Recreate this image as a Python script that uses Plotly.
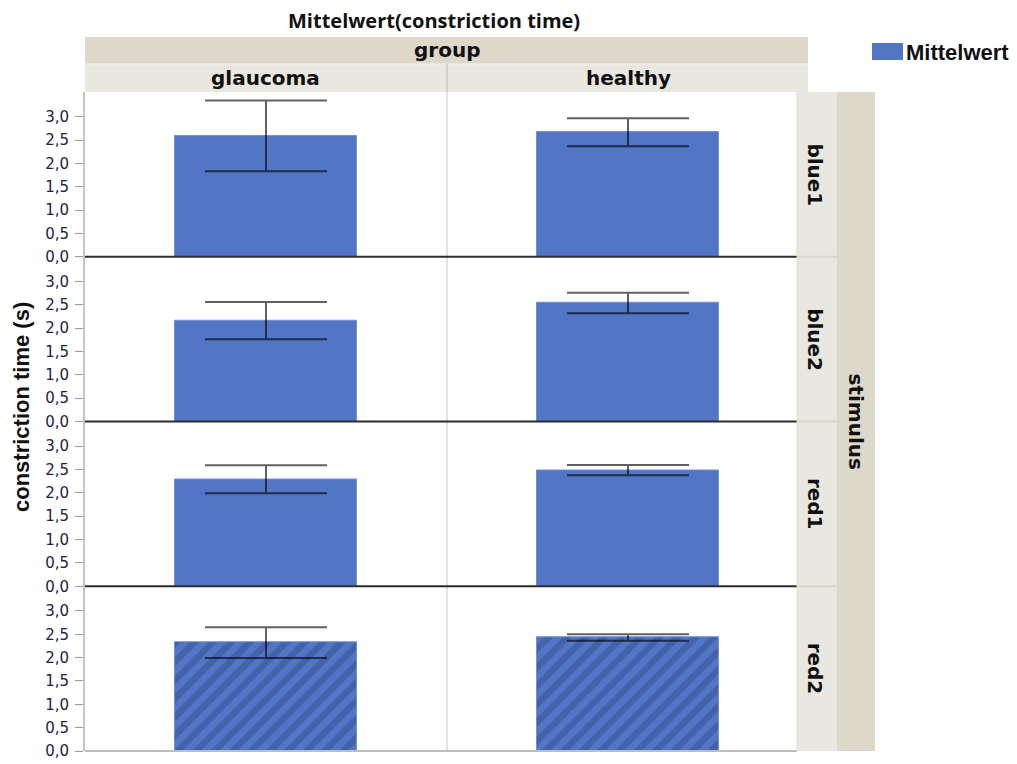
import plotly.graph_objects as go
from plotly.subplots import make_subplots

# Mean constriction time (s) with error half-widths, per stimulus and group
stimuli = ["blue1", "blue2", "red1", "red2"]
groups = ["glaucoma", "healthy"]
mean_glaucoma = [2.59, 2.16, 2.29, 2.32]
mean_healthy = [2.67, 2.54, 2.49, 2.43]
err_glaucoma = [0.76, 0.40, 0.30, 0.33]
err_healthy = [0.30, 0.22, 0.11, 0.07]
y_ticks = [0.0, 0.5, 1.0, 1.5, 2.0, 2.5, 3.0]

W, H = 1017, 764
L, R, T, B = 85, 809, 92, 751  # plot area in pixels

BAR = "#5275c6"
HATCH = "#34508e"
STRIP_DARK = "#dcd9cb"
STRIP_LIGHT = "#e9e8e0"
BOLD = "DejaVu Sans"


def fx(px):
    return (px - L) / (R - L)


def fy(py):
    return (B - py) / (B - T)


fig = make_subplots(rows=len(stimuli), cols=1, shared_xaxes=True,
                    vertical_spacing=0)

for i, stim in enumerate(stimuli):
    marker = dict(color=BAR, line=dict(color="#7190d6", width=1))
    if stim == "red2":
        marker["pattern"] = dict(shape="/", fgcolor=HATCH, bgcolor=BAR,
                                 size=13, solidity=0.5)
    fig.add_trace(
        go.Bar(
            x=groups,
            y=[mean_glaucoma[i], mean_healthy[i]],
            width=0.505,
            marker=marker,
            error_y=dict(type="data",
                         array=[err_glaucoma[i], err_healthy[i]],
                         color="rgba(0,0,0,0.62)", thickness=2, width=61),
            showlegend=False,
        ),
        row=i + 1, col=1,
    )
    fig.update_yaxes(
        row=i + 1, col=1,
        range=[0, 3.53], tickvals=y_ticks, tickformat=".1f",
        ticks="outside", ticklen=8, tickcolor="#9a9a9a", tickwidth=1,
        ticklabelstandoff=3, automargin=False,
        tickfont=dict(family="DejaVu Sans", size=15, color="#222244"),
        showgrid=False, zeroline=False,
        showline=True, linecolor="#c4c4c4", linewidth=2,
    )
    fig.update_xaxes(
        row=i + 1, col=1,
        type="category", categoryorder="array", categoryarray=groups,
        range=[-0.5, 1.5], showticklabels=False, ticks="", automargin=False,
        showgrid=False, zeroline=False, showline=False,
    )

shapes = []
row_h = (B - T) / len(stimuli)
row_bottoms = [T + row_h * (k + 1) for k in range(len(stimuli))]

# column divider between the two groups
shapes.append(dict(type="line", xref="paper", yref="paper", layer="below",
                   x0=fx(447), x1=fx(447), y0=0, y1=1,
                   line=dict(color="#d9d9d9", width=1.5)))

# baseline of each panel
for k, yb in enumerate(row_bottoms):
    col = "#bdbdbd" if k == len(stimuli) - 1 else "#2b2b2b"
    shapes.append(dict(type="line", xref="paper", yref="paper", layer="above",
                       x0=0, x1=fx(797), y0=fy(yb), y1=fy(yb),
                       line=dict(color=col, width=2)))

# column header bands
shapes.append(dict(type="rect", xref="paper", yref="paper", layer="above",
                   x0=fx(85), x1=fx(808), y0=fy(64), y1=fy(37),
                   fillcolor=STRIP_DARK, line=dict(width=0)))
shapes.append(dict(type="rect", xref="paper", yref="paper", layer="above",
                   x0=fx(85), x1=fx(808), y0=fy(92), y1=fy(64),
                   fillcolor=STRIP_LIGHT, line=dict(width=0)))
shapes.append(dict(type="line", xref="paper", yref="paper", layer="above",
                   x0=fx(85), x1=fx(808), y0=fy(64), y1=fy(64),
                   line=dict(color="#f2f1ec", width=1)))
shapes.append(dict(type="line", xref="paper", yref="paper", layer="above",
                   x0=fx(447), x1=fx(447), y0=fy(92), y1=fy(64),
                   line=dict(color="#d3d1c6", width=2)))

# row strips on the right
shapes.append(dict(type="rect", xref="paper", yref="paper", layer="above",
                   x0=fx(797), x1=fx(837), y0=fy(B), y1=fy(T),
                   fillcolor=STRIP_LIGHT, line=dict(width=0)))
shapes.append(dict(type="rect", xref="paper", yref="paper", layer="above",
                   x0=fx(837), x1=fx(875), y0=fy(B), y1=fy(T),
                   fillcolor=STRIP_DARK, line=dict(width=0)))
for yb in row_bottoms[:-1]:
    shapes.append(dict(type="line", xref="paper", yref="paper", layer="above",
                       x0=fx(797), x1=fx(837), y0=fy(yb), y1=fy(yb),
                       line=dict(color="#d8d6cc", width=2)))
shapes.append(dict(type="line", xref="paper", yref="paper", layer="above",
                   x0=fx(797), x1=fx(797), y0=0, y1=1,
                   line=dict(color="#dddcd4", width=1)))

# legend swatch
shapes.append(dict(type="rect", xref="paper", yref="paper", layer="above",
                   x0=fx(872), x1=fx(903), y0=fy(60), y1=fy(43),
                   fillcolor=BAR, line=dict(width=0)))

annotations = [
    dict(text="<b>Mittelwert(constriction time)</b>", x=fx(434), y=fy(21),
         font=dict(family="Open Sans", size=20, color="#111")),
    dict(text="<b>group</b>", x=fx(446.5), y=fy(50),
         font=dict(family=BOLD, size=20, color="#111")),
    dict(text="<b>glaucoma</b>", x=fx(265), y=fy(78),
         font=dict(family=BOLD, size=20, color="#111")),
    dict(text="<b>healthy</b>", x=fx(628), y=fy(78),
         font=dict(family=BOLD, size=20, color="#111")),
    dict(text="<b>stimulus</b>", x=fx(856), y=fy((T + B) / 2), textangle=90,
         font=dict(family=BOLD, size=20, color="#111")),
    dict(text="<b>constriction time (s)</b>", x=fx(21), y=fy(407),
         textangle=-90,
         font=dict(family="Liberation Sans", size=22, color="#111")),
    dict(text="<b>Mittelwert</b>", x=fx(904), y=fy(52), xanchor="left",
         font=dict(family="Liberation Sans", size=22, color="#111")),
]
for k, stim in enumerate(stimuli):
    annotations.append(dict(text=f"<b>{stim}</b>", x=fx(815),
                            y=fy(row_bottoms[k] - row_h / 2), textangle=90,
                            font=dict(family=BOLD, size=20, color="#111")))
for a in annotations:
    a.update(xref="paper", yref="paper", showarrow=False)
    a.setdefault("xanchor", "center")
    a.setdefault("yanchor", "middle")

fig.update_layout(
    width=W, height=H,
    margin=dict(l=L, r=W - R, t=T, b=H - B, pad=0, autoexpand=False),
    plot_bgcolor="white", paper_bgcolor="white",
    separators=",.",
    bargap=0,
    shapes=shapes,
    annotations=annotations,
    font=dict(family="DejaVu Sans"),
    showlegend=False,
)

fig.write_html("out.html")
